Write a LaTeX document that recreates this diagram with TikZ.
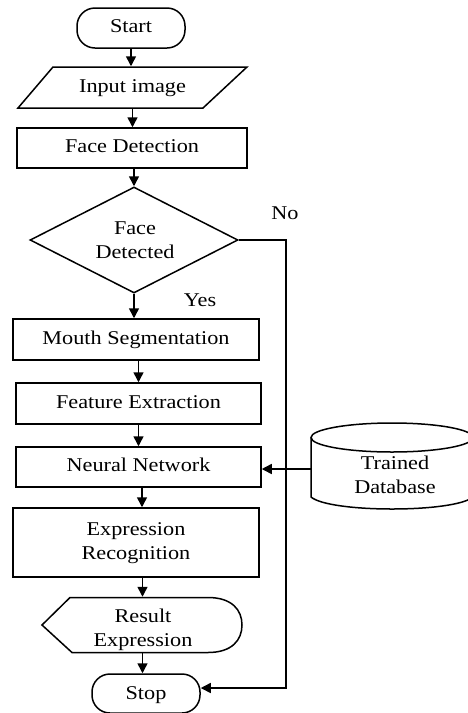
\documentclass[tikz,border=0pt]{standalone}
\usepackage{fontspec}
\usepackage{graphicx}
\setmainfont{Liberation Serif}
\usetikzlibrary{arrows.meta,shapes.geometric}
\newcommand{\tx}[1]{\scalebox{1.14}[1]{\begin{tabular}{@{}c@{}}#1\end{tabular}}}
\begin{document}
\begin{tikzpicture}[x=1pt,y=-1pt,
  line width=1.5pt,
  every node/.style={font=\fontsize{19.5}{24}\selectfont, inner sep=0pt},
  procbox/.style={draw, rectangle, minimum width=#1, minimum height=41pt},
  termbox/.style={draw, rectangle, rounded corners=18pt, minimum width=108pt, minimum height=40pt},
  arr/.style={-{Triangle[length=10pt,width=10pt]}}
]
\useasboundingbox (0,0) rectangle (468,713);

% Nodes
\node[termbox] (start) at (131,28) {\tx{Start}};
\draw (53,67) -- (247,67) -- (203,108) -- (18,108) -- cycle;
\node[minimum width=185pt, minimum height=41pt] (input) at (132.5,87.5) {\tx{Input image}};
\node[procbox=230pt, minimum height=40pt] (fd) at (132,148) {\tx{Face Detection}};
\node[draw, diamond, minimum width=208pt, minimum height=106pt] (dia) at (134,240) {};
\node (diatxt) at (135,242) {\tx{Face\\Detected}};
\node[procbox=246pt] (ms) at (136,339.5) {\tx{Mouth Segmentation}};
\node[procbox=245pt] (fe) at (138.5,403.5) {\tx{Feature Extraction}};
\node[procbox=245pt, minimum height=40pt] (nn) at (138.5,467) {\tx{Neural Network}};
\node[procbox=246pt, minimum height=69pt] (er) at (136,542.5) {\tx{Expression\\Recognition}};
\draw (42,625) -- (70,597.5) -- (208,597.5)
  .. controls (232,597.5) and (242,610) .. (242,625)
  .. controls (242,640) and (232,652.5) .. (208,652.5)
  -- (72,652.5) -- cycle;
\node[minimum width=150pt, minimum height=55pt] (re) at (142.5,625) {};
\node (retxt) at (143,630) {\tx{Result\\Expression}};
\node[termbox, minimum height=39pt] (stop) at (146,693.5) {};
\node (stoptxt) at (146,695) {\tx{Stop}};

% Database cylinder
\draw (392,437.5) ellipse [x radius=81, y radius=14.5];
\draw (311,437.5) -- (311,497) .. controls (330,513) and (454,513) .. (473,497);
\draw (473,437.5) -- (473,497);
\node (db) at (395,477) {\tx{Trained\\Database}};
\coordinate (dbw) at (311,469);

% Labels
\node (no) at (285,215) {\tx{No}};
\node (yes) at (200,302) {\tx{Yes}};

% Connectors
\draw[arr] (start.south) -- (start.south |- input.north);
\draw[arr] (input.south) -- (input.south |- fd.north);
\draw[arr] (dia.north |- fd.south) -- (dia.north);
\draw[arr] (dia.south) -- (dia.south |- ms.north);
\draw[arr] (fe.north |- ms.south) -- (fe.north);
\draw[arr] (fe.south) -- (fe.south |- nn.north);
\draw[arr] ([xshift=3.5pt]nn.south) -- ([xshift=3.5pt]nn.south |- er.north);
\draw[arr] (re.north |- er.south) -- (re.north);
\draw[arr] (re.south) -- (re.south |- stop.north);
\coordinate (noc) at (286,240);
\draw[arr] (dia.east) -- (noc) |- ([yshift=5.5pt]stop.east);
\draw[arr] (dbw) -- (dbw -| nn.east);
\end{tikzpicture}
\end{document}
